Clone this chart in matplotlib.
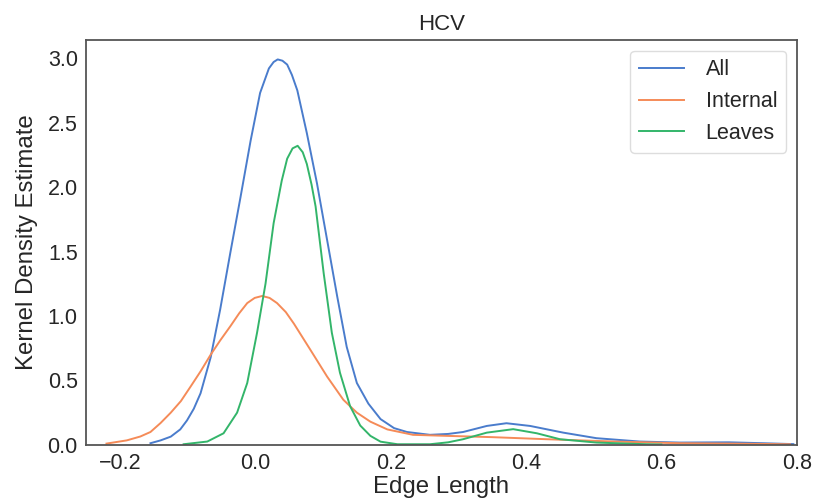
import matplotlib
matplotlib.use("Agg")
import matplotlib.pyplot as plt

# curves (edge length, density)
all_x = [-0.155, -0.140, -0.125, -0.111, -0.101, -0.091, -0.081, -0.066, -0.052, -0.037,
         -0.022, -0.007, 0.007, 0.020, 0.027, 0.033, 0.040, 0.047, 0.054, 0.062,
         0.076, 0.091, 0.106, 0.121, 0.135, 0.150, 0.167, 0.185, 0.205, 0.224,
         0.258, 0.285, 0.307, 0.342, 0.371, 0.406, 0.455, 0.504, 0.568, 0.627,
         0.700, 0.750, 0.795]
all_y = [0.013, 0.035, 0.064, 0.12, 0.19, 0.28, 0.40, 0.68, 1.05, 1.49,
         1.92, 2.36, 2.73, 2.92, 2.97, 2.99, 2.98, 2.95, 2.87, 2.75,
         2.42, 2.03, 1.59, 1.15, 0.76, 0.48, 0.32, 0.20, 0.13, 0.10,
         0.078, 0.085, 0.10, 0.147, 0.168, 0.147, 0.095, 0.052, 0.026, 0.018,
         0.02, 0.013, 0.006]

internal_x = [-0.22, -0.19, -0.170, -0.155, -0.140, -0.125, -0.110, -0.096, -0.081, -0.066,
              -0.052, -0.037, -0.024, -0.012, -0.001, 0.010, 0.021, 0.032, 0.045, 0.057,
              0.069, 0.081, 0.106, 0.130, 0.150, 0.170, 0.195, 0.233, 0.283, 0.35,
              0.43, 0.53, 0.627, 0.70, 0.79]
internal_y = [0.01, 0.035, 0.065, 0.10, 0.17, 0.25, 0.34, 0.45, 0.57, 0.70,
              0.81, 0.92, 1.02, 1.10, 1.14, 1.155, 1.14, 1.10, 1.03, 0.94,
              0.84, 0.74, 0.53, 0.35, 0.25, 0.18, 0.12, 0.078, 0.07, 0.06,
              0.044, 0.026, 0.013, 0.01, 0.005]

leaves_x = [-0.106, -0.071, -0.047, -0.027, -0.012, 0.0025, 0.015, 0.027, 0.039, 0.047,
            0.055, 0.0625, 0.070, 0.076, 0.083, 0.089, 0.101, 0.113, 0.125, 0.140,
            0.155, 0.170, 0.185, 0.21, 0.258, 0.285, 0.307, 0.342, 0.381, 0.416,
            0.45, 0.504, 0.578, 0.60]
leaves_y = [0.005, 0.026, 0.09, 0.25, 0.48, 0.87, 1.25, 1.72, 2.05, 2.22,
            2.30, 2.32, 2.27, 2.18, 2.02, 1.85, 1.33, 0.87, 0.56, 0.30,
            0.15, 0.07, 0.025, 0.005, 0.005, 0.02, 0.044, 0.095, 0.122, 0.09,
            0.044, 0.018, 0.005, 0.003]

colors = ['#4a7ccc', '#f58b58', '#33b56a']

plt.rcParams['font.family'] = ['Liberation Sans', 'DejaVu Sans']

fig, ax = plt.subplots(figsize=(8.13, 5.01), dpi=100)
fig.subplots_adjust(left=0.106, right=0.980, top=0.920, bottom=0.112)

ax.plot(all_x, all_y, color=colors[0], lw=1.4, label='All', solid_joinstyle='round')
ax.plot(internal_x, internal_y, color=colors[1], lw=1.4, label='Internal', solid_joinstyle='round')
ax.plot(leaves_x, leaves_y, color=colors[2], lw=1.4, label='Leaves', solid_joinstyle='round')

ax.set_xlim(-0.25, 0.8)
ax.set_ylim(0, 3.14)
ax.set_xticks([-0.2, 0.0, 0.2, 0.4, 0.6, 0.8])
ax.set_yticks([0.0, 0.5, 1.0, 1.5, 2.0, 2.5, 3.0])
ax.tick_params(length=0, labelsize=15.5, labelcolor='#262626', pad=6)
for s in ax.spines.values():
    s.set_color('#555555')
    s.set_linewidth(1.3)

ax.set_title('HCV', fontsize=16, color='#262626', pad=7)
ax.set_xlabel('Edge Length', fontsize=17.3, color='#262626', labelpad=1)
ax.set_ylabel('Kernel Density Estimate', fontsize=17.3, color='#262626', labelpad=7)

leg = ax.legend(loc='upper right', fontsize=15.5, handlelength=2.1, handletextpad=1.0,
                fancybox=True, edgecolor='#dddddd', framealpha=1)
for t in leg.get_texts():
    t.set_color('#262626')

fig.savefig('out.png', dpi=100)
